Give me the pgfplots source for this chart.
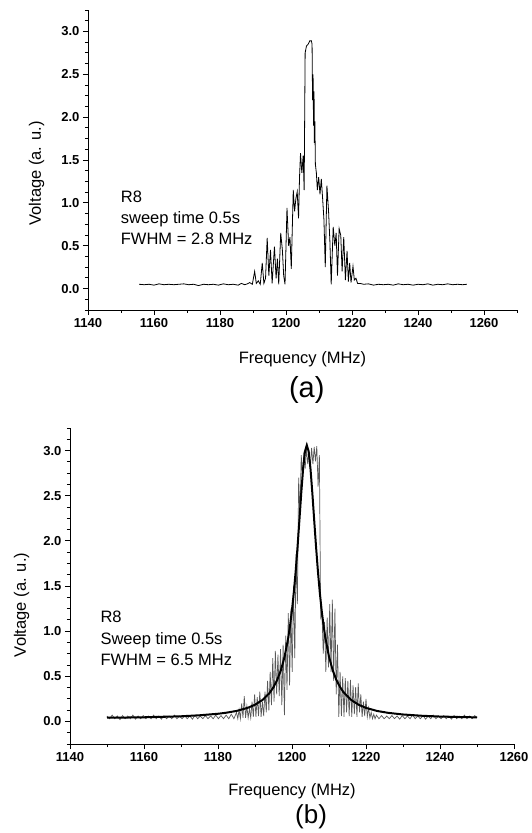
\documentclass[border=0pt]{standalone}
\usepackage{fontspec}
\setmainfont{Liberation Sans}
\usepackage{pgfplots}
\pgfplotsset{compat=1.18}

\newcommand{\tickfont}{\fontsize{13}{15}\selectfont\bfseries}

\pgfplotsset{
 myaxis/.style={
  scale only axis,
  axis lines*=left,
  axis line style={line width=0.9pt},
  tick align=outside,
  major tick length=5pt, minor tick length=3pt,
  every tick/.style={black, line width=0.8pt},
  ymin=-0.25, ymax=3.25,
  ytick={0,0.5,1.0,1.5,2.0,2.5,3.0},
  minor ytick={-0.25,-0.125,0.125,0.25,0.375,0.625,0.75,0.875,1.125,1.25,1.375,1.625,1.75,1.875,2.125,2.25,2.375,2.625,2.75,2.875,3.125,3.25},
  xtick={1140,1160,1180,1200,1220,1240,1260},
  /pgf/number format/assume math mode=true,
  /pgf/number format/1000 sep={},
  xticklabel style={font=\tickfont},
  yticklabel style={font=\tickfont, /pgf/number format/fixed, /pgf/number format/fixed zerofill, /pgf/number format/precision=1},
  label style={font=\fontsize{16.5}{19}\selectfont},
  clip=false,
 }
}

\begin{document}
\begin{tikzpicture}
\path[use as bounding box] (0,0) rectangle (532pt,833pt);

% ---------------- panel (a) ----------------
\begin{axis}[myaxis,
  at={(88pt,523pt)}, anchor=south west,
  width=429pt, height=300pt,
  xmin=1140, xmax=1270,
  minor xtick={1150,1170,1190,1210,1230,1250,1270},
  xlabel={Frequency (MHz)},
  ylabel={Voltage (a. u.)},
  xlabel style={at={(axis description cs:0.5,-0.177)}, anchor=base},
  ylabel style={at={(axis description cs:-0.12,0.456)}, anchor=center},
]
\addplot[black, line width=0.8pt, mark=none] coordinates {
(1155.5,0.05) (1157,0.045) (1158.5,0.05) (1160,0.04) (1161.5,0.055) (1163,0.045)
(1164.5,0.05) (1166,0.045) (1167.5,0.05) (1169,0.055) (1170.5,0.045) (1172,0.05)
(1173.5,0.035) (1175,0.05) (1176.5,0.045) (1178,0.05) (1179.5,0.04) (1181,0.055)
(1182.5,0.045) (1184,0.05) (1185.5,0.04) (1186.5,0.06) (1187.5,0.045) (1188.3,0.055)
(1189,0.07) (1189.8,0.05) (1190.5,0.20) (1191,0.06) (1191.6,0.09) (1192.2,0.05)
(1192.8,0.30) (1193.3,0.06) (1193.8,0.12) (1194.3,0.59) (1194.8,0.15) (1195.3,0.45)
(1195.8,0.06) (1196.5,0.49) (1197,0.12) (1197.4,0.35) (1197.8,0.05) (1198.4,0.65)
(1198.9,0.45) (1199.3,0.15) (1199.7,0.05) (1200.3,0.94) (1200.8,0.50) (1201.2,0.60)
(1201.6,0.23) (1202.2,1.15) (1202.6,0.90) (1203,1.05) (1203.4,1.13) (1203.8,0.82)
(1204.1,1.30) (1204.4,1.58) (1204.8,1.35) (1205.2,1.55) (1205.5,1.15) (1205.8,2.75)
(1206.2,2.83) (1206.7,2.85) (1207.2,2.89) (1207.7,2.89) (1207.9,2.85) (1208.05,2.2)
(1208.2,2.5) (1208.35,1.9) (1208.5,2.3) (1208.6,1.7) (1208.75,1.95) (1208.9,1.45)
(1209.2,1.35) (1209.5,1.15) (1209.9,1.30) (1210.3,1.10) (1210.7,1.28) (1211.1,1.05)
(1211.5,0.80) (1211.9,0.25) (1212.4,1.20) (1212.9,0.90) (1213.3,0.55) (1213.7,0.05)
(1214.3,0.72) (1214.8,0.50) (1215.2,0.65) (1215.6,0.15) (1216.1,0.70) (1216.6,0.62)
(1217,0.20) (1217.5,0.60) (1218,0.10) (1218.5,0.44) (1218.9,0.08) (1219.3,0.30)
(1219.7,0.07) (1220.3,0.26) (1220.7,0.10) (1221.2,0.12) (1221.7,0.06) (1222.5,0.06)
(1223.5,0.05) (1225,0.055) (1226.5,0.04) (1228,0.05) (1229.5,0.045) (1231,0.05)
(1232.5,0.04) (1234,0.055) (1235.5,0.045) (1237,0.05) (1238.5,0.04) (1240,0.05)
(1241.5,0.045) (1243,0.055) (1244.5,0.04) (1246,0.05) (1247.5,0.045) (1249,0.055)
(1250.5,0.045) (1252,0.05) (1253.5,0.045) (1254.8,0.05)
};
\node[anchor=base west, font=\fontsize{16.5}{19}\selectfont] at (axis cs:1148.9,1.006) {R8};
\node[anchor=base west, font=\fontsize{16.5}{19}\selectfont] at (axis cs:1148.9,0.758) {sweep time 0.5s};
\node[anchor=base west, font=\fontsize{16.5}{19}\selectfont] at (axis cs:1148.9,0.513) {FWHM = 2.8 MHz};
\node[anchor=base, font=\fontsize{29}{32}\selectfont] at (axis description cs:0.51,-0.293) {(a)};
\end{axis}

% ---------------- panel (b) ----------------
\begin{axis}[myaxis,
  at={(70pt,89pt)}, anchor=south west,
  width=444pt, height=316pt,
  xmin=1140, xmax=1260,
  minor xtick={1150,1170,1190,1210,1230,1250},
  xlabel={Frequency (MHz)},
  ylabel={Voltage (a. u.)},
  xlabel style={at={(axis description cs:0.5,-0.162)}, anchor=base},
  ylabel style={at={(axis description cs:-0.109,0.44)}, anchor=center},
]
\addplot[black!65, line width=0.7pt, mark=none] coordinates {
(1150.0,0.06) (1150.7,0.03) (1151.4,0.07) (1152.1,0.03) (1152.8,0.06) (1153.5,0.02)
(1154.2,0.065) (1154.9,0.03) (1155.6,0.06) (1156.3,0.03) (1157.0,0.07) (1157.7,0.025)
(1158.4,0.06) (1159.1,0.03) (1159.8,0.065) (1160.5,0.03) (1161.2,0.06) (1161.9,0.03)
(1162.6,0.07) (1163.3,0.03) (1164.0,0.06) (1164.7,0.025) (1165.4,0.065) (1166.1,0.03)
(1166.8,0.06) (1167.5,0.03) (1168.2,0.07) (1168.9,0.03) (1169.6,0.06) (1170.3,0.03)
(1171.0,0.065) (1171.7,0.03) (1172.4,0.06) (1173.1,0.025) (1173.8,0.07) (1174.5,0.03)
(1175.2,0.06) (1175.9,0.03) (1176.6,0.065) (1177.3,0.03) (1178.0,0.06) (1178.7,0.03)
(1179.4,0.07) (1180.1,0.03) (1180.8,0.065) (1181.5,0.03) (1182.2,0.07) (1182.9,0.03)
(1183.6,0.08) (1184.3,0.03)
(1185.00,0.10) (1185.35,0.03) (1185.70,0.13) (1186.05,0.03) (1186.40,0.20) (1186.75,0.04)
(1187.10,0.28) (1187.45,0.04) (1187.80,0.17) (1188.15,0.04) (1188.50,0.14) (1188.85,0.04)
(1189.20,0.22) (1189.55,0.05) (1189.90,0.30) (1190.25,0.05) (1190.60,0.27) (1190.95,0.06)
(1191.30,0.33) (1191.65,0.05) (1192.00,0.22) (1192.35,0.06) (1192.70,0.33) (1193.05,0.10)
(1193.40,0.45) (1193.75,0.12) (1194.10,0.55) (1194.45,0.18) (1194.80,0.70) (1195.15,0.22)
(1195.50,0.78) (1195.85,0.30) (1196.20,0.74) (1196.55,0.28) (1196.90,0.80) (1197.25,0.18)
(1197.60,0.85) (1197.95,0.07) (1198.30,0.95) (1198.65,0.35) (1199.00,1.20) (1199.35,0.40)
(1199.70,1.25) (1200.05,0.55) (1200.40,1.50) (1200.75,0.70) (1201.10,1.85) (1201.45,1.30)
(1201.80,2.70) (1202.15,2.30) (1202.50,2.95) (1202.85,2.70) (1203.20,2.98) (1203.55,2.80)
(1203.90,3.02) (1204.25,2.85) (1204.60,3.00) (1204.95,2.80) (1205.30,3.03) (1205.65,2.85)
(1206.00,3.04) (1206.35,2.88) (1206.70,3.05) (1207.05,2.60) (1207.40,2.95) (1207.75,1.15)
(1208.10,1.20) (1208.45,0.75) (1208.80,1.10) (1209.15,0.55) (1209.50,1.15) (1209.85,0.60)
(1210.20,1.30) (1210.55,0.55) (1210.90,1.35) (1211.25,0.45) (1211.60,1.25) (1211.95,0.30)
(1212.30,0.85) (1212.65,0.05) (1213.00,0.55) (1213.35,0.06) (1213.70,0.50) (1214.05,0.05)
(1214.40,0.48) (1214.75,0.10) (1215.10,0.45) (1215.45,0.06) (1215.80,0.46) (1216.15,0.05)
(1216.50,0.40) (1216.85,0.08) (1217.20,0.38) (1217.55,0.05) (1217.90,0.42) (1218.25,0.10)
(1218.60,0.30) (1218.95,0.05) (1219.30,0.22) (1219.65,0.06) (1220.00,0.25) (1220.35,0.05)
(1220.70,0.15) (1221.05,0.04) (1221.40,0.10) (1221.75,0.03) (1222.10,0.08) (1222.45,0.03)
(1222.8,0.07) (1223.5,0.03) (1224.2,0.065) (1224.9,0.03) (1225.6,0.06) (1226.3,0.03)
(1227.0,0.065) (1227.7,0.03) (1228.4,0.06) (1229.1,0.025) (1229.8,0.065) (1230.5,0.03)
(1231.2,0.06) (1231.9,0.03) (1232.6,0.07) (1233.3,0.03) (1234.0,0.06) (1234.7,0.03)
(1235.4,0.065) (1236.1,0.025) (1236.8,0.06) (1237.5,0.03) (1238.2,0.07) (1238.9,0.03)
(1239.6,0.06) (1240.3,0.03) (1241.0,0.065) (1241.7,0.03) (1242.4,0.06) (1243.1,0.025)
(1243.8,0.065) (1244.5,0.03) (1245.2,0.06) (1245.9,0.03) (1246.6,0.07) (1247.3,0.03)
(1248.0,0.06) (1248.7,0.03) (1249.4,0.065) (1250.0,0.04)
};
\addplot[black, line width=2pt, mark=none] coordinates {
(1150,0.041) (1155,0.043) (1160,0.046) (1165,0.051) (1170,0.057) (1175,0.068)
(1180,0.085) (1182,0.095) (1185,0.116) (1188,0.150) (1190,0.185) (1192,0.237)
(1194,0.319) (1195,0.380) (1196,0.459) (1197,0.567) (1198,0.717) (1199,0.930)
(1199.5,1.069) (1200,1.235) (1200.5,1.433) (1201,1.666) (1201.5,1.934) (1202,2.228)
(1202.5,2.528) (1203,2.798) (1203.5,2.990) (1204,3.060) (1204.5,2.990) (1205,2.798)
(1205.5,2.528) (1206,2.228) (1206.5,1.934) (1207,1.666) (1207.5,1.433) (1208,1.235)
(1208.5,1.069) (1209,0.930) (1210,0.717) (1211,0.567) (1212,0.459) (1213,0.380)
(1214,0.319) (1216,0.237) (1218,0.185) (1220,0.150) (1223,0.116) (1226,0.095)
(1230,0.077) (1235,0.063) (1240,0.054) (1245,0.049) (1250,0.045)
};
\node[anchor=base west, font=\fontsize{16.5}{19}\selectfont] at (axis cs:1147.3,1.091) {R8};
\node[anchor=base west, font=\fontsize{16.5}{19}\selectfont] at (axis cs:1147.3,0.856) {Sweep time 0.5s};
\node[anchor=base west, font=\fontsize{16.5}{19}\selectfont] at (axis cs:1147.3,0.623) {FWHM = 6.5 MHz};
\node[anchor=base, font=\fontsize{26}{29}\selectfont] at (axis description cs:0.543,-0.25) {(b)};
\end{axis}
\end{tikzpicture}
\end{document}
